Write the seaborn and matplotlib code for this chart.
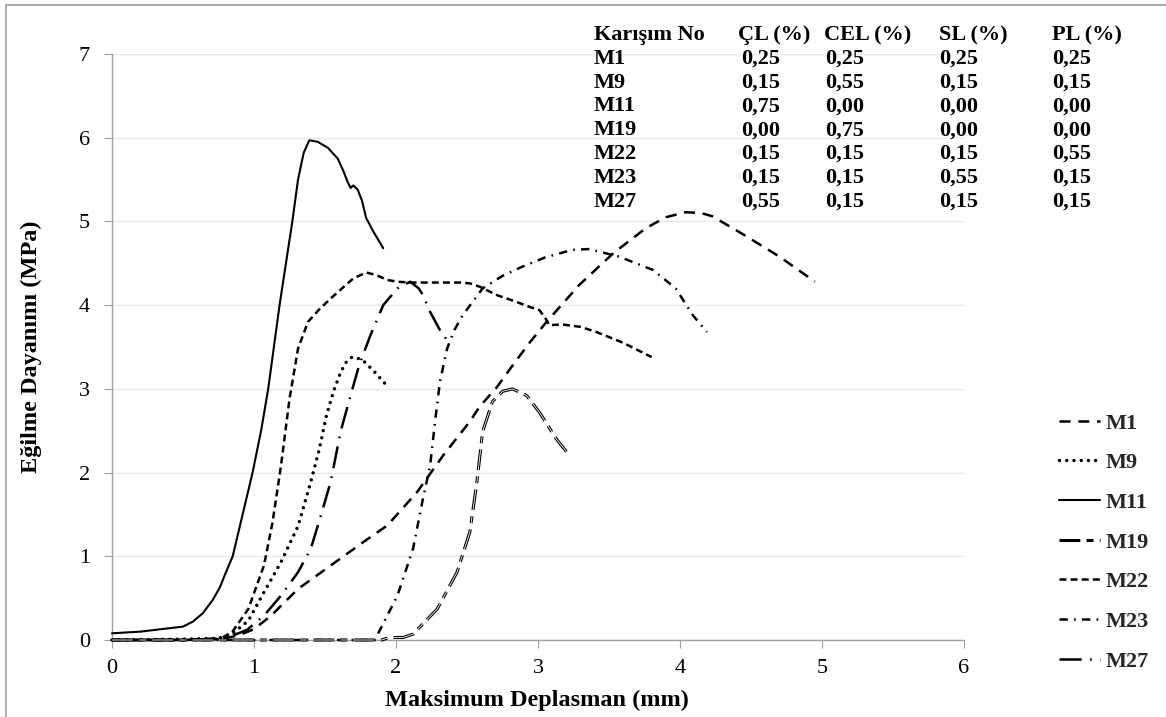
import matplotlib
matplotlib.use("Agg")
import matplotlib.pyplot as plt
import seaborn as sns
from matplotlib.lines import Line2D
from matplotlib.font_manager import FontProperties

# ---------------- data ----------------
m1_x = [0.0, 0.5, 0.8, 0.9, 1.0, 1.12, 1.31, 1.54, 1.77, 1.94, 2.15, 2.33, 2.52, 2.59, 2.71, 2.83,
        2.94, 3.06, 3.29, 3.53, 3.76, 3.9, 4.04, 4.15, 4.23, 4.46, 4.70, 4.95]
m1_y = [0.0, 0.0, 0.02, 0.06, 0.13, 0.29, 0.61, 0.89, 1.17, 1.37, 1.77, 2.2, 2.61, 2.79, 3.02, 3.3,
        3.55, 3.8, 4.24, 4.62, 4.92, 5.05, 5.11, 5.1, 5.06, 4.83, 4.58, 4.28]

m9_x = [0.0, 0.5, 0.75, 0.85, 0.96, 1.07, 1.19, 1.31, 1.40, 1.46, 1.51, 1.56, 1.61, 1.65, 1.69,
        1.74, 1.78, 1.85, 1.94]
m9_y = [0.0, 0.01, 0.02, 0.08, 0.23, 0.57, 0.93, 1.36, 1.89, 2.28, 2.68, 2.97, 3.2, 3.32, 3.38,
        3.36, 3.32, 3.2, 3.03]

m11_x = [0.0, 0.2, 0.35, 0.5, 0.57, 0.64, 0.71, 0.76, 0.80, 0.85, 0.92, 0.99, 1.05, 1.10, 1.18,
         1.27, 1.31, 1.35, 1.39, 1.45, 1.52, 1.59, 1.63, 1.66, 1.68, 1.70, 1.73, 1.76, 1.79, 1.84,
         1.91]
m11_y = [0.08, 0.1, 0.13, 0.16, 0.22, 0.32, 0.48, 0.63, 0.8, 1.0, 1.5, 2.0, 2.5, 3.0, 4.0,
         5.0, 5.5, 5.82, 5.97, 5.95, 5.88, 5.75, 5.6, 5.47, 5.40, 5.43, 5.38, 5.25, 5.04, 4.88,
         4.68]

m19_x = [0.0, 1.9, 1.95, 2.05, 2.12, 2.29, 2.43, 2.52, 2.57, 2.61, 2.68, 2.75, 2.82, 2.92, 3.01,
         3.13, 3.2]
m19_y = [0.0, 0.0, 0.03, 0.03, 0.07, 0.37, 0.81, 1.29, 1.89, 2.49, 2.85, 2.97, 3.0, 2.92, 2.72,
         2.4, 2.25]

m22_x = [0.0, 0.5, 0.75, 0.84, 0.96, 1.07, 1.13, 1.19, 1.25, 1.31, 1.38, 1.46, 1.54, 1.62, 1.70,
         1.79, 1.86, 1.94, 2.01, 2.10, 2.30, 2.45, 2.52, 2.59, 2.71, 2.83, 2.94, 3.01, 3.05, 3.08,
         3.17, 3.30, 3.41, 3.60, 3.80]
m22_y = [0.0, 0.0, 0.01, 0.08, 0.37, 0.89, 1.4, 2.08, 2.88, 3.48, 3.8, 3.95, 4.08, 4.2, 4.32,
         4.39, 4.36, 4.3, 4.28, 4.27, 4.27, 4.27, 4.26, 4.22, 4.12, 4.05, 3.98, 3.94, 3.85, 3.76,
         3.77, 3.74, 3.68, 3.55, 3.38]

m23_x = [0.0, 1.85, 1.89, 2.01, 2.12, 2.19, 2.24, 2.28, 2.31, 2.36, 2.41, 2.47, 2.61, 2.75, 2.89,
         3.05, 3.24, 3.36, 3.57, 3.81, 3.97, 4.09, 4.19]
m23_y = [0.0, 0.0, 0.13, 0.53, 1.09, 1.69, 2.08, 2.68, 3.09, 3.48, 3.7, 3.88, 4.2, 4.35, 4.46,
         4.57, 4.66, 4.67, 4.58, 4.42, 4.2, 3.88, 3.68]

m27_x = [0.0, 0.5, 0.8, 0.95, 1.07, 1.19, 1.31, 1.40, 1.47, 1.54, 1.61, 1.68, 1.74, 1.82, 1.91,
         2.01, 2.10, 2.16, 2.19, 2.24, 2.31, 2.36]
m27_y = [0.0, 0.0, 0.02, 0.12, 0.29, 0.53, 0.81, 1.09, 1.48, 1.89, 2.49, 2.92, 3.28, 3.64, 4.0,
         4.2, 4.28, 4.2, 4.12, 3.92, 3.7, 3.58]

series_names = ["M1", "M9", "M11", "M19", "M22", "M23", "M27"]

table_header = ["Karışım No", "ÇL (%)", "CEL (%)", "SL (%)", "PL (%)"]
cl_vals = ["0,25", "0,15", "0,75", "0,00", "0,15", "0,15", "0,55"]
cel_vals = ["0,25", "0,55", "0,00", "0,75", "0,15", "0,15", "0,15"]
sl_vals = ["0,25", "0,15", "0,00", "0,00", "0,15", "0,55", "0,15"]
pl_vals = ["0,25", "0,15", "0,00", "0,00", "0,55", "0,15", "0,15"]

x_ticks = [0, 1, 2, 3, 4, 5, 6]
y_ticks = [0, 1, 2, 3, 4, 5, 6, 7]

# ---------------- style ----------------
sns.set_theme(style="white")
plt.rcParams['font.family'] = ['Liberation Serif', 'DejaVu Serif']
plt.rcParams['lines.scale_dashes'] = False

W, H = 1166, 717
fig = plt.figure(figsize=(W / 100, H / 100), dpi=100)
fig.patch.set_facecolor('white')
ax = fig.add_axes([112 / W, 1 - 640 / H, (964 - 112) / W, (640 - 54) / H])

styles = {
    "M1":  dict(ls=(0, (8, 5.5)), lw=1.8, cap='butt'),
    "M9":  dict(ls=(0, (0.01, 5.2)), lw=2.5, cap='round'),
    "M11": dict(ls='-', lw=1.5, cap='butt'),
    "M19": dict(ls=(0, (15, 4.5, 5, 4.5)), lw=2.2, cap='butt'),
    "M22": dict(ls=(0, (5, 3)), lw=1.8, cap='butt'),
    "M23": dict(ls=(0, (6, 4.5, 1.2, 4.5)), lw=1.8, cap='butt'),
    "M27": dict(ls=(0, (16, 6, 1.2, 6)), lw=1.8, cap='butt'),
}
data = {
    "M1": (m1_x, m1_y), "M9": (m9_x, m9_y), "M11": (m11_x, m11_y), "M19": (m19_x, m19_y),
    "M22": (m22_x, m22_y), "M23": (m23_x, m23_y), "M27": (m27_x, m27_y),
}

handles = []
for name in series_names:
    xs, ys = data[name]
    st = styles[name]
    sns.lineplot(x=xs, y=ys, ax=ax, color='black', linewidth=st['lw'], sort=False,
                 estimator=None, legend=False)
    ln = ax.lines[-1]
    ln.set_linestyle(st['ls'])
    ln.set_dash_capstyle(st['cap'])
    ln.set_solid_capstyle('round')
    ln.set_solid_joinstyle('round')
    ln.set_clip_on(False)
    ln.set_zorder(3)
    handles.append(ln)
    if name == "M19":
        # compound (double) line look: thin white core
        sns.lineplot(x=xs, y=ys, ax=ax, color='white', linewidth=0.6, sort=False,
                     estimator=None, legend=False)
        core = ax.lines[-1]
        core.set_linestyle(st['ls'])
        core.set_dash_capstyle('butt')
        core.set_clip_on(False)
        core.set_zorder(3.1)

# ---------------- axes ----------------
ax.set_xlim(0, 6)
ax.set_ylim(0, 7)
ax.set_xticks(x_ticks)
ax.set_yticks(y_ticks)
ax.set_xticklabels([str(t) for t in x_ticks])
ax.set_yticklabels([str(t) for t in y_ticks])
for s in ['top', 'right']:
    ax.spines[s].set_visible(False)
for s in ['left', 'bottom']:
    ax.spines[s].set_color('#a0a0a0')
    ax.spines[s].set_linewidth(1.0)
ax.set_axisbelow(True)
ax.yaxis.grid(True, color='#e9e9e9', linewidth=1.0)
ax.xaxis.grid(False)
ax.tick_params(axis='both', which='major', direction='out', length=6, width=0.8,
               color='#a0a0a0', labelsize=16, labelcolor='black', bottom=True, left=True)
ax.tick_params(axis='x', pad=8)
ax.tick_params(axis='y', pad=10)

ax.set_xlabel("Maksimum Deplasman (mm)", fontsize=17.5, fontweight='bold', color='black')
ax.set_ylabel("Eğilme Dayanımı (MPa)", fontsize=17.5, fontweight='bold', color='black')
ax.xaxis.set_label_coords((537 - 112) / 852, -(700 - 640) / 586)
ax.xaxis.label.set_va('center')
ax.yaxis.set_label_coords(-(112 - 31) / 852, 0.5)
ax.yaxis.label.set_va('center')

# ---------------- legend ----------------
leg_font = FontProperties(family='Liberation Serif', weight='bold', size=16)
ax.legend(handles, series_names, loc='upper left', bbox_to_anchor=(1059 / W, 1 - 413 / H),
          bbox_transform=fig.transFigure, frameon=False, borderpad=0, borderaxespad=0,
          handlelength=29.5 / 16, handletextpad=0.25, labelspacing=0.86, prop=leg_font)

# ---------------- table text ----------------
col_x = [594, 738, 824, 939, 1052]
val_x = [594, 741, 825, 939, 1052]
row0 = 40
dy = 23.8
tkw = dict(fontsize=16, fontweight='bold', color='black', va='baseline', ha='left',
           transform=fig.transFigure)
for cx, txt in zip(col_x, table_header):
    fig.text(cx / W, 1 - row0 / H, txt, **tkw)
for i, name in enumerate(series_names):
    yy = 1 - (row0 + dy * (i + 1)) / H
    vals = [name, cl_vals[i], cel_vals[i], sl_vals[i], pl_vals[i]]
    for cx, txt in zip(val_x, vals):
        fig.text(cx / W, yy, txt, **tkw)

# ---------------- chart-area border ----------------
fig.add_artist(Line2D([6 / W, 6 / W], [0, 1 - 5 / H], color='#a0a0a0', lw=1.2,
                      transform=fig.transFigure))
fig.add_artist(Line2D([6 / W, 1], [1 - 5 / H, 1 - 5 / H], color='#a0a0a0', lw=1.2,
                      transform=fig.transFigure))

fig.savefig("out.png", dpi=100, facecolor='white')
